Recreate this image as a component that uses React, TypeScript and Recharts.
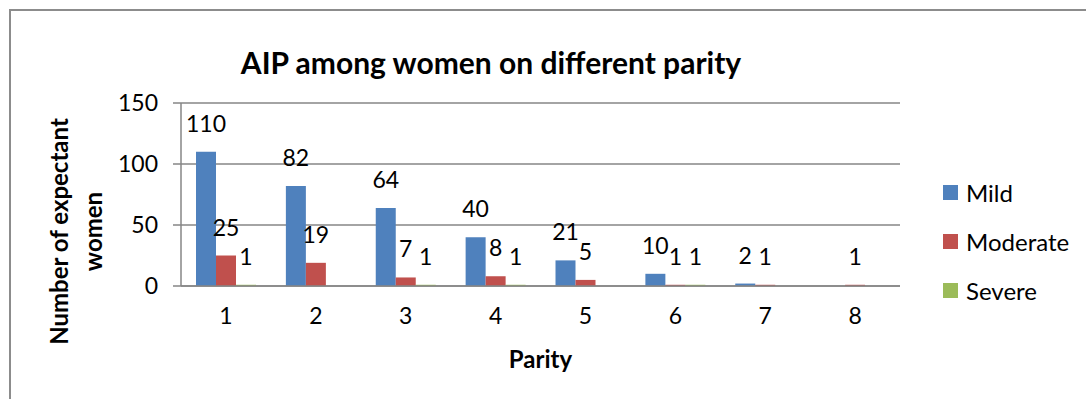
import React from "react";
import {
  BarChart,
  Bar,
  XAxis,
  YAxis,
  CartesianGrid,
  LabelList,
} from "recharts";

const FONT = "Lato, 'Open Sans', sans-serif";

const parity = ["1", "2", "3", "4", "5", "6", "7", "8"];
const mild = [110, 82, 64, 40, 21, 10, 2, null];
const moderate = [25, 19, 7, 8, 5, 1, 1, 1];
const severe = [1, null, 1, 1, null, 1, null, null];
const yTicks = [0, 50, 100, 150];

const SERIES = [
  { key: "Mild", color: "#4F81BD" },
  { key: "Moderate", color: "#C0504D" },
  { key: "Severe", color: "#9BBB59" },
];

const data = parity.map((p, i) => ({
  parity: p,
  Mild: mild[i],
  Moderate: moderate[i],
  Severe: severe[i],
}));

function LegendBox() {
  return (
    <div
      style={{
        position: "absolute",
        left: 943,
        top: 168,
        fontFamily: FONT,
        fontSize: 24,
        color: "#000",
      }}
    >
      {SERIES.map((s) => (
        <div
          key={s.key}
          style={{ display: "flex", alignItems: "center", height: 49 }}
        >
          <span
            style={{
              width: 15,
              height: 15,
              background: s.color,
              marginRight: 8,
              display: "inline-block",
            }}
          />
          <span>{s.key}</span>
        </div>
      ))}
    </div>
  );
}

function YTitle(props: any) {
  const vb = props.viewBox || {};
  const cy = vb.y + vb.height / 2 + 37;
  return (
    <text
      transform={`rotate(-90, 78, ${cy})`}
      x={78}
      y={cy}
      textAnchor="middle"
      fontFamily={FONT}
      fontWeight="bold"
      fontSize={24}
      fill="#000"
    >
      <tspan x={78} dy={-10}>Number of expectant</tspan>
      <tspan x={78} dy={34}>women</tspan>
    </text>
  );
}

function XTitle(props: any) {
  const vb = props.viewBox || {};
  return (
    <text
      x={vb.x + vb.width / 2}
      y={368}
      textAnchor="middle"
      fontFamily={FONT}
      fontWeight="bold"
      fontSize={24}
      fill="#000"
    >
      Parity
    </text>
  );
}

export default function App() {
  return (
    <div
      style={{
        position: "absolute",
        left: 0,
        top: 0,
        width: 1086,
        height: 399,
        background: "#fff",
        overflow: "hidden",
      }}
    >
      <div
        style={{
          position: "absolute",
          left: 9,
          top: 9,
          width: 1100,
          height: 420,
          borderLeft: "2px solid #8c8c8c",
          borderTop: "2px solid #8c8c8c",
        }}
      />
      <div
        style={{
          position: "absolute",
          left: 0,
          width: 982,
          top: 44,
          textAlign: "center",
          fontFamily: FONT,
          fontWeight: "bold",
          fontSize: 30,
          color: "#000",
        }}
      >
        AIP among women on different parity
      </div>
      <div style={{ position: "absolute", left: 0, top: 0 }}>
        <BarChart
          width={1086}
          height={399}
          data={data}
          margin={{ top: 103, right: 186, bottom: 83, left: 121 }}
          barGap={0}
        >
          <CartesianGrid vertical={false} stroke="#868686" strokeWidth={1.5} />
          <XAxis
            dataKey="parity"
            height={30}
            tickLine={false}
            axisLine={{ stroke: "#868686", strokeWidth: 1.5 }}
            tickSize={6}
            tickMargin={16}
            tick={{ fill: "#000", fontSize: 23, fontFamily: FONT }}
            label={{ content: XTitle }}
          />
          <YAxis
            width={60}
            domain={[0, 150]}
            ticks={yTicks}
            tickSize={8}
            tickMargin={15}
            axisLine={{ stroke: "#868686", strokeWidth: 1.5 }}
            tickLine={{ stroke: "#868686", strokeWidth: 1.5 }}
            tick={{ fill: "#000", fontSize: 23, fontFamily: FONT }}
            label={{ content: YTitle }}
          />
          {SERIES.map((s) => (
            <Bar
              key={s.key}
              dataKey={s.key}
              fill={s.color}
              barSize={20}
              isAnimationActive={false}
            >
              <LabelList
                dataKey={s.key}
                position="top"
                offset={20}
                fill="#000"
                fontSize={23}
                fontFamily={FONT}
              />
            </Bar>
          ))}
        </BarChart>
      </div>
      <LegendBox />
    </div>
  );
}
